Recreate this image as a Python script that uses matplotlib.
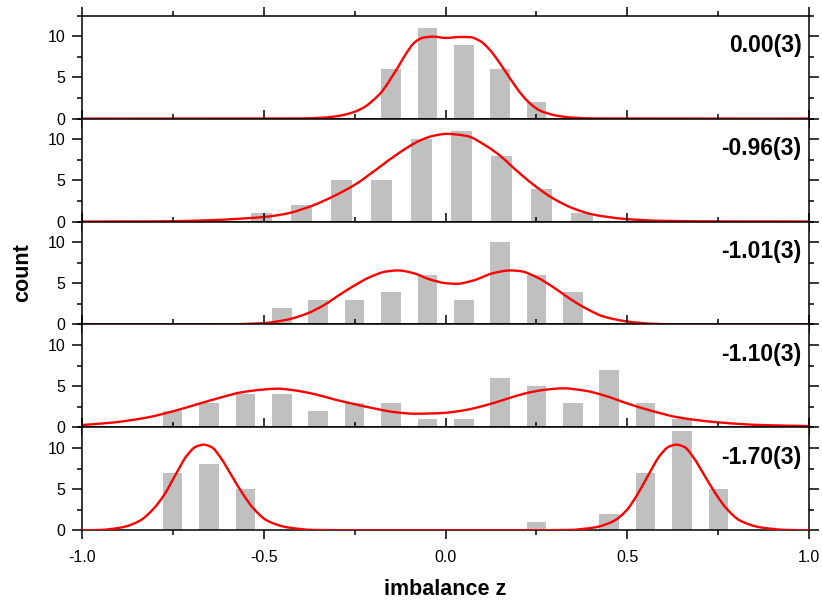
#!/usr/bin/env python3
"""Stacked histograms of the imbalance z with the fitted distributions."""

import matplotlib

matplotlib.use("Agg")
import matplotlib.pyplot as plt
from matplotlib.patches import PathPatch
from matplotlib.path import Path
from matplotlib.ticker import MultipleLocator

BAR_GRAY = "#c0c0c0"
CURVE_RED = "#ff0000"
INK = "#000000"

# panel labels (top to bottom)
panel_labels = ["0.00(3)", "-0.96(3)", "-1.01(3)", "-1.10(3)", "-1.70(3)"]

# histogram bins (centres) and counts per panel
bins_1 = [-0.15, -0.05, 0.05, 0.15, 0.25]
counts_1 = [6, 11, 9, 6, 2]

bins_2 = [-0.505, -0.395, -0.285, -0.175, -0.065, 0.045, 0.155, 0.265, 0.375]
counts_2 = [1, 2, 5, 5, 10, 11, 8, 4, 1]

bins_3 = [-0.45, -0.35, -0.25, -0.15, -0.05, 0.05, 0.15, 0.25, 0.35]
counts_3 = [2, 3, 3, 4, 6, 3, 10, 6, 4]

bins_4 = [-0.75, -0.65, -0.55, -0.45, -0.35, -0.25, -0.15, -0.05,
          0.05, 0.15, 0.25, 0.35, 0.45, 0.55, 0.65]
counts_4 = [2, 3, 4, 4, 2, 3, 3, 1, 1, 6, 5, 3, 7, 3, 1]

bins_5 = [-0.75, -0.65, -0.55, 0.25, 0.45, 0.55, 0.65, 0.75]
counts_5 = [7, 8, 5, 1, 2, 7, 12, 5]

bar_widths = [0.054, 0.058, 0.054, 0.054, 0.054]

# fitted curves
curve_x_1 = [-1.0, -0.40, -0.336, -0.29, -0.249, -0.221, -0.198, -0.175, -0.153,
             -0.13, -0.107, -0.084, -0.061, -0.034, 0.001, 0.04, 0.067, 0.095,
             0.122, 0.145, 0.168, 0.191, 0.214, 0.237, 0.26, 0.306, 0.351, 0.41, 1.0]
curve_y_1 = [0.0, 0.02, 0.12, 0.36, 0.85, 1.46, 2.27, 3.28, 4.7,
             6.3, 8.0, 9.3, 9.84, 9.96, 9.8, 9.92, 9.9, 9.43,
             8.34, 7.0, 5.5, 4.0, 2.67, 1.66, 0.97, 0.36, 0.12, 0.02, 0.0]

curve_x_2 = [-1.0, -0.8, -0.659, -0.561, -0.499, -0.433, -0.365, -0.316, -0.25,
             -0.188, -0.129, -0.07, -0.035, 0.003, 0.058, 0.113, 0.15, 0.186, 0.241,
             0.296, 0.351, 0.406, 0.498, 0.6, 0.75, 0.9, 1.0]
curve_y_2 = [0.0, 0.02, 0.14, 0.36, 0.55, 1.0, 1.95, 2.9, 4.45,
             6.4, 8.3, 9.85, 10.4, 10.65, 10.4, 9.15, 8.0, 6.55, 4.5,
             2.8, 1.6, 0.85, 0.3, 0.08, 0.02, 0.01, 0.0]

curve_x_3 = [-1.0, -0.6, -0.5, -0.437, -0.382, -0.336, -0.29, -0.25, -0.208,
             -0.162, -0.13, -0.088, -0.043, 0.0, 0.031, 0.076, 0.131, 0.177,
             0.205, 0.25, 0.296, 0.342, 0.388, 0.434, 0.5, 0.571, 0.65, 1.0]
curve_y_3 = [0.0, 0.02, 0.16, 0.57, 1.3, 2.3, 3.64, 4.74, 5.75,
             6.44, 6.56, 6.23, 5.47, 5.02, 4.94, 5.34, 6.23, 6.56,
             6.48, 5.75, 4.53, 3.12, 1.9, 0.97, 0.36, 0.08, 0.01, 0.0]

curve_x_4 = [-1.0, -0.91, -0.819, -0.75, -0.681, -0.617, -0.562, -0.5, -0.461,
             -0.416, -0.361, -0.306, -0.251, -0.196, -0.141, -0.086, -0.031, 0.001,
             0.054, 0.109, 0.164, 0.219, 0.274, 0.324, 0.384, 0.438, 0.5, 0.567,
             0.64, 0.75, 0.869, 1.0]
curve_y_4 = [0.28, 0.61, 1.21, 1.94, 2.83, 3.64, 4.25, 4.6, 4.7,
             4.5, 4.05, 3.4, 2.83, 2.3, 1.86, 1.66, 1.7, 1.78,
             2.1, 2.67, 3.4, 4.13, 4.57, 4.74, 4.45, 3.85, 2.9, 2.0,
             1.21, 0.61, 0.28, 0.16]

curve_x_5 = [-1.0, -0.95, -0.889, -0.84, -0.803, -0.772, -0.741, -0.711, -0.686,
             -0.665, -0.643, -0.619, -0.588, -0.557, -0.527, -0.49, -0.435, -0.361,
             -0.2, 0.2, 0.338, 0.411, 0.461, 0.497, 0.528, 0.559, 0.589, 0.614,
             0.635, 0.657, 0.681, 0.712, 0.743, 0.773, 0.81, 0.865, 0.939, 1.0]
curve_y_5 = [0.0, 0.04, 0.36, 1.17, 2.6, 4.4, 6.84, 9.07, 10.16,
             10.4, 10.1, 8.87, 6.64, 4.4, 2.6, 1.17, 0.36, 0.04,
             0.0, 0.0, 0.04, 0.36, 1.1, 2.4, 4.4, 6.84, 9.07, 10.16,
             10.4, 10.1, 8.87, 6.64, 4.4, 2.6, 1.17, 0.36, 0.04, 0.0]

x_ticks = [-1.0, -0.5, 0.0, 0.5, 1.0]
x_tick_labels = ["-1.0", "-0.5", "0.0", "0.5", "1.0"]
y_ticks = [0, 5, 10]


def configure() -> None:
    plt.rcParams.update(
        {
            "font.family": ["Liberation Sans", "DejaVu Sans"],
            "axes.unicode_minus": False,
            "axes.linewidth": 1.1,
            "axes.edgecolor": INK,
            "xtick.major.width": 1.1,
            "ytick.major.width": 1.1,
            "xtick.minor.width": 1.1,
            "ytick.minor.width": 1.1,
            "xtick.major.size": 6.8,
            "ytick.major.size": 7.0,
            "xtick.minor.size": 3.3,
            "ytick.minor.size": 3.3,
            "xtick.direction": "out",
            "ytick.direction": "out",
            "xtick.labelsize": 11.5,
            "ytick.labelsize": 11.5,
        }
    )


def smooth_path(xs, ys) -> Path:
    """Bezier path through the read points (monotone cubic tangents)."""
    n = len(xs)
    h = [xs[i + 1] - xs[i] for i in range(n - 1)]
    d = [(ys[i + 1] - ys[i]) / h[i] for i in range(n - 1)]
    m = [d[0]] + [0.0] * (n - 2) + [d[-1]]
    for i in range(1, n - 1):
        if d[i - 1] * d[i] > 0:
            w1 = 2 * h[i] + h[i - 1]
            w2 = h[i] + 2 * h[i - 1]
            m[i] = (w1 + w2) / (w1 / d[i - 1] + w2 / d[i])
    verts = [(xs[0], ys[0])]
    codes = [Path.MOVETO]
    for i in range(n - 1):
        verts += [
            (xs[i] + h[i] / 3, ys[i] + m[i] * h[i] / 3),
            (xs[i + 1] - h[i] / 3, ys[i + 1] - m[i + 1] * h[i] / 3),
            (xs[i + 1], ys[i + 1]),
        ]
        codes += [Path.CURVE4] * 3
    return Path(verts, codes)


def main() -> None:
    configure()
    bins = [bins_1, bins_2, bins_3, bins_4, bins_5]
    counts = [counts_1, counts_2, counts_3, counts_4, counts_5]
    curves = [
        (curve_x_1, curve_y_1),
        (curve_x_2, curve_y_2),
        (curve_x_3, curve_y_3),
        (curve_x_4, curve_y_4),
        (curve_x_5, curve_y_5),
    ]

    fig, axes = plt.subplots(5, 1, figsize=(8.22, 6.05), dpi=100, sharex=True)
    fig.subplots_adjust(left=0.0994, right=0.9846, bottom=0.1235, top=0.974, hspace=0)

    for i, ax in enumerate(axes):
        ax.bar(bins[i], counts[i], width=bar_widths[i], color=BAR_GRAY, linewidth=0, zorder=1)
        cx, cy = curves[i]
        ax.add_patch(PathPatch(smooth_path(cx, cy), facecolor="none",
                               edgecolor=CURVE_RED, linewidth=1.7, zorder=3))
        ax.set_xlim(-1.0, 1.0)
        ax.set_ylim(0, 12.5)
        ax.set_yticks(y_ticks)
        ax.yaxis.set_minor_locator(MultipleLocator(2.5))
        ax.xaxis.set_minor_locator(MultipleLocator(0.25))
        ax.tick_params(axis="both", which="both", top=True, right=True, colors=INK)
        ax.tick_params(axis="y", which="major", pad=5)
        ax.tick_params(axis="x", which="major", pad=7.5)
        ax.text(0.9895, 0.71, panel_labels[i], transform=ax.transAxes,
                ha="right", va="center", fontsize=16.5, fontweight="bold", color=INK)

    axes[-1].set_xticks(x_ticks, x_tick_labels)

    fig.text(0.028, 0.549, "count", rotation=90, ha="center", va="center",
             fontsize=15.5, fontweight="bold", color=INK)
    fig.text(0.542, 0.0248, "imbalance z", ha="center", va="center",
             fontsize=15.5, fontweight="bold", color=INK)

    fig.savefig("out.png", dpi=100, facecolor="white")
    plt.close(fig)


if __name__ == "__main__":
    main()
